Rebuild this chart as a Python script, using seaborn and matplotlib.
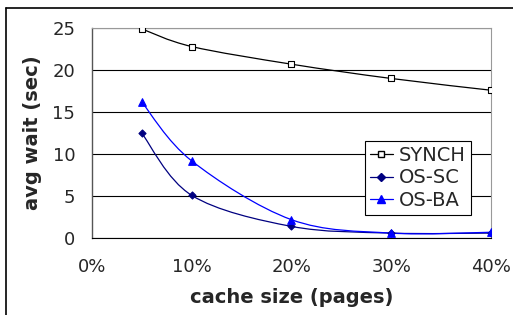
import matplotlib
matplotlib.use('Agg')
import numpy as np
import matplotlib.pyplot as plt
import seaborn as sns
import pandas as pd
from matplotlib.path import Path
from matplotlib.patches import PathPatch
from matplotlib.lines import Line2D

# cache size as fraction of pages
cache_size = [0.05, 0.10, 0.20, 0.30, 0.40]
synch = [24.9, 22.8, 20.7, 19.0, 17.6]
os_sc = [12.5, 5.1, 1.4, 0.6, 0.6]
os_ba = [16.2, 9.2, 2.2, 0.6, 0.7]

series_names = ["SYNCH", "OS-SC", "OS-BA"]
y_ticks = [0, 5, 10, 15, 20, 25]
x_ticks = [0.0, 0.1, 0.2, 0.3, 0.4]
x_tick_labels = ["0%", "10%", "20%", "30%", "40%"]

sns.set_style("white")
plt.rcParams['font.family'] = ['DejaVu Sans']


def smooth_path(xs, ys):
    # excel-style smoothed line: cubic bezier through the points
    pts = np.column_stack([xs, ys])
    n = len(pts)
    verts = [pts[0]]
    codes = [Path.MOVETO]
    for i in range(n - 1):
        p0 = pts[i - 1] if i > 0 else pts[i]
        p1 = pts[i]
        p2 = pts[i + 1]
        p3 = pts[i + 2] if i + 2 < n else pts[i + 1]
        c1 = p1 + (p2 - p0) / 6.0
        c2 = p2 - (p3 - p1) / 6.0
        verts += [c1, c2, p2]
        codes += [Path.CURVE4] * 3
    return Path(verts, codes)


df = pd.DataFrame({
    "cache": cache_size * 3,
    "wait": synch + os_sc + os_ba,
    "series": [s for s in series_names for _ in cache_size],
})

styles = {
    "SYNCH": dict(color="black", marker="s", mfc="white", mec="black", ms=4.3),
    "OS-SC": dict(color="#000080", marker="D", mfc="#000080", mec="#000080", ms=3.6),
    "OS-BA": dict(color="#0000ff", marker="^", mfc="#0000ff", mec="#0000ff", ms=5.5),
}

fig = plt.figure(figsize=(5.13, 3.15), dpi=100)
ax = fig.add_axes([0.179, 0.244, 0.778, 0.667])

for name in series_names:
    sub = df[df["series"] == name]
    st = styles[name]
    ax.add_patch(PathPatch(smooth_path(sub["cache"].values, sub["wait"].values),
                           facecolor="none", edgecolor=st["color"], lw=0.9, zorder=3))
    sns.scatterplot(data=sub, x="cache", y="wait", ax=ax, marker=st["marker"],
                    color=st["mfc"], edgecolor=st["mec"], s=st["ms"] ** 2,
                    linewidth=0.8, zorder=4, legend=False)

ax.set_xlim(0, 0.4)
ax.set_ylim(0, 25)
ax.set_xticks(x_ticks)
ax.set_xticklabels(x_tick_labels)
ax.set_yticks(y_ticks)
ax.tick_params(axis="both", labelsize=13, length=4, width=0.8, color="#444444",
               direction="out")
ax.tick_params(axis="y", pad=8)
ax.tick_params(axis="x", pad=10)
ax.yaxis.grid(True, color="black", lw=0.8)
ax.xaxis.grid(False)
ax.set_axisbelow(True)
for side in ["top", "right"]:
    ax.spines[side].set_color("#999999")
    ax.spines[side].set_linewidth(0.8)
ax.spines["left"].set_color("#555555")
ax.spines["bottom"].set_color("black")
ax.spines["left"].set_linewidth(1.0)

ax.set_xlabel("cache size (pages)", fontsize=14, fontweight="bold", labelpad=9)
ax.set_ylabel("avg wait (sec)", fontsize=14, fontweight="bold", labelpad=7)

handles = [Line2D([], [], color=styles[n]["color"], marker=styles[n]["marker"],
                  mfc=styles[n]["mfc"], mec=styles[n]["mec"], ms=styles[n]["ms"],
                  lw=0.9) for n in series_names]
leg = ax.legend(handles, series_names, loc="upper left", bbox_to_anchor=(0.684, 0.462),
                fontsize=14, frameon=True, fancybox=False, handlelength=1.2,
                handletextpad=0.3, borderpad=0.25, labelspacing=0.18, borderaxespad=0)
leg.get_frame().set_edgecolor("black")
leg.get_frame().set_linewidth(0.8)
leg.get_frame().set_alpha(1)

# outer frame lines (left and top)
fig.add_artist(Line2D([6 / 513, 6 / 513], [0, 1 - 8 / 315], transform=fig.transFigure,
                      color="black", lw=1.2))
fig.add_artist(Line2D([6 / 513, 1], [1 - 8 / 315, 1 - 8 / 315], transform=fig.transFigure,
                      color="black", lw=1.2))

fig.savefig("out.png", dpi=100)
